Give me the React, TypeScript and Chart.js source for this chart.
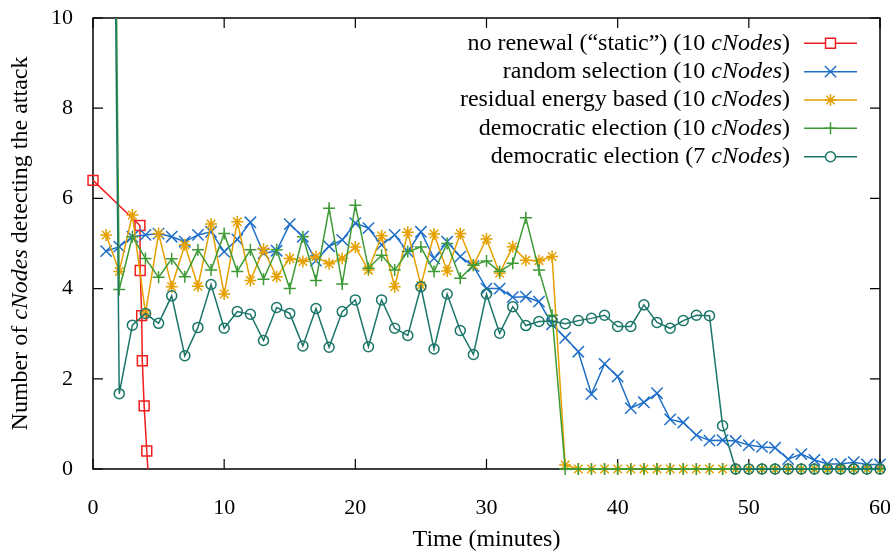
import { useEffect, useRef } from 'react';
import { Chart, registerables } from 'chart.js';
import { drawPoint } from 'chart.js/helpers';

Chart.register(...registerables);

// ---------- data ----------
const minutes = [
  1, 2, 3, 4, 5, 6, 7, 8, 9, 10, 11, 12, 13, 14, 15, 16, 17, 18, 19, 20,
  21, 22, 23, 24, 25, 26, 27, 28, 29, 30, 31, 32, 33, 34, 35, 36, 37, 38, 39, 40,
  41, 42, 43, 44, 45, 46, 47, 48, 49, 50, 51, 52, 53, 54, 55, 56, 57, 58, 59, 60,
];

const staticMinutes = [0, 3.58, 3.6, 3.71, 3.76, 3.9, 4.1, 4.3];
const staticValues = [6.4, 5.4, 4.4, 3.4, 2.4, 1.4, 0.4, -0.6];

const randomValues = [
  4.83, 4.93, 5.15, 5.19, 5.22, 5.15, 5.04, 5.19, 5.26, 4.82,
  5.09, 5.47, 4.78, 4.84, 5.43, 5.15, 4.62, 4.94, 5.08, 5.45,
  5.34, 4.97, 5.19, 4.82, 5.26, 4.67, 5.04, 4.71, 4.5, 4.0,
  4.0, 3.81, 3.82, 3.71, 3.21, 2.91, 2.6, 1.66, 2.33, 2.05,
  1.35, 1.48, 1.68, 1.1, 1.03, 0.75, 0.63, 0.64, 0.62, 0.53,
  0.49, 0.47, 0.22, 0.33, 0.2, 0.11, 0.11, 0.15, 0.1, 0.1,
];

const energyValues = [
  5.19, 4.38, 5.63, 3.45, 5.22, 4.04, 4.97, 4.05, 5.43, 3.88,
  5.48, 4.18, 4.87, 4.26, 4.67, 4.6, 4.71, 4.55, 4.67, 4.92,
  4.41, 5.17, 4.04, 5.25, 4.07, 5.21, 4.39, 5.22, 4.52, 5.1,
  4.34, 4.93, 4.63, 4.62, 4.71, 0.09, 0, 0, 0, 0,
  0, 0, 0, 0, 0, 0, 0, 0, 0, 0,
  0, 0, 0, 0, 0, 0, 0, 0, 0, 0,
];

const democratic10Values = [
  34, 3.98, 5.15, 4.67, 4.25, 4.66, 4.26, 4.86, 4.41, 5.22,
  4.38, 4.86, 4.21, 4.86, 4.0, 5.15, 4.18, 5.78, 4.1, 5.85,
  4.45, 4.74, 4.41, 4.82, 4.92, 4.38, 5.0, 4.23, 4.52, 4.61,
  4.38, 4.56, 5.57, 4.41, 3.41, 0, 0, 0, 0, 0,
  0, 0, 0, 0, 0, 0, 0, 0, 0, 0,
  0, 0, 0, 0, 0, 0, 0, 0, 0, 0,
];

const democratic7Values = [
  33, 1.67, 3.19, 3.45, 3.23, 3.84, 2.51, 3.14, 4.09, 3.12,
  3.49, 3.43, 2.85, 3.58, 3.45, 2.73, 3.56, 2.7, 3.49, 3.75,
  2.71, 3.75, 3.12, 2.96, 4.04, 2.66, 3.88, 3.07, 2.54, 3.88,
  3.01, 3.6, 3.18, 3.27, 3.28, 3.22, 3.29, 3.34, 3.41, 3.16,
  3.16, 3.64, 3.25, 3.12, 3.29, 3.41, 3.4, 0.96, 0, 0,
  0, 0, 0, 0, 0, 0, 0, 0, 0, 0,
];

const seriesNames = [
  'no renewal (“static”)',
  'random selection',
  'residual energy based',
  'democratic election',
  'democratic election',
];
const seriesNodeCounts = ['10', '10', '10', '10', '7'];
const nodeWord = 'cNodes';

const xTicks = [0, 10, 20, 30, 40, 50, 60];
const yTicks = [0, 2, 4, 6, 8, 10];

const xTitle = 'Time (minutes)';
const yTitleParts = ['Number of ', 'cNodes', ' detecting the attack'];

// ---------- styles ----------
const FONT = "'Liberation Serif', 'Times New Roman', serif";
const FS = 24;
const TICK_FS = 22;
const colors = ['#f21d1d', '#1f6fc8', '#e6a000', '#3d9b35', '#1a7568'];
const styles: any[] = ['rect', 'crossRot', 'star', 'cross', 'circle'];
const radii = [7, 8, 6, 6, 5];

function toPoints(xs: number[], ys: number[]) {
  return xs.map((x, i) => ({ x, y: ys[i] }));
}

function drawRich(ctx: CanvasRenderingContext2D, parts: { t: string; it: boolean }[], x: number, y: number, align: 'right' | 'center') {
  let total = 0;
  const widths = parts.map((p) => {
    ctx.font = `${p.it ? 'italic ' : ''}${FS}px ${FONT}`;
    const w = ctx.measureText(p.t).width;
    total += w;
    return w;
  });
  let cx = align === 'right' ? x - total : x - total / 2;
  ctx.textAlign = 'left';
  ctx.textBaseline = 'middle';
  parts.forEach((p, i) => {
    ctx.font = `${p.it ? 'italic ' : ''}${FS}px ${FONT}`;
    ctx.fillText(p.t, cx, y);
    cx += widths[i];
  });
}

const framePlugin = {
  id: 'frame',
  beforeDatasetsDraw(chart: any) {
    const { ctx, chartArea: a, scales } = chart;
    ctx.save();
    ctx.strokeStyle = '#000';
    ctx.lineWidth = 1.5;
    ctx.strokeRect(a.left, a.top, a.right - a.left, a.bottom - a.top);
    ctx.lineWidth = 1.2;
    ctx.beginPath();
    const tl = 10;
    xTicks.forEach((v) => {
      const px = scales.x.getPixelForValue(v);
      ctx.moveTo(px, a.bottom);
      ctx.lineTo(px, a.bottom - tl);
      ctx.moveTo(px, a.top);
      ctx.lineTo(px, a.top + tl);
    });
    yTicks.forEach((v) => {
      const py = scales.y.getPixelForValue(v);
      ctx.moveTo(a.left, py);
      ctx.lineTo(a.left + tl, py);
      ctx.moveTo(a.right, py);
      ctx.lineTo(a.right - tl, py);
    });
    ctx.stroke();
    ctx.restore();
  },
  afterDraw(chart: any) {
    const { ctx, chartArea: a } = chart;
    ctx.save();
    ctx.fillStyle = '#000';
    // x title
    drawRich(ctx, [{ t: xTitle, it: false }], (a.left + a.right) / 2, 540, 'center');
    // y title
    ctx.save();
    ctx.translate(21, (a.top + a.bottom) / 2);
    ctx.rotate(-Math.PI / 2);
    drawRich(ctx, yTitleParts.map((t, i) => ({ t, it: i === 1 })), 0, 0, 'center');
    ctx.restore();
    // legend
    const textRight = 790;
    const lineL = 804;
    const lineR = 857;
    seriesNames.forEach((name, i) => {
      const y = 43.3 + i * 28.35;
      ctx.fillStyle = '#000';
      drawRich(
        ctx,
        [
          { t: `${name} (${seriesNodeCounts[i]} `, it: false },
          { t: nodeWord, it: true },
          { t: ')', it: false },
        ],
        textRight,
        y,
        'right'
      );
      ctx.strokeStyle = colors[i];
      ctx.lineWidth = 1.5;
      ctx.beginPath();
      ctx.moveTo(lineL, y);
      ctx.lineTo(lineR, y);
      ctx.stroke();
      ctx.fillStyle = '#fff';
      ctx.strokeStyle = colors[i];
      drawPoint(ctx, { pointStyle: styles[i], rotation: 0, radius: radii[i], borderWidth: 1.5 } as any, (lineL + lineR) / 2, y);
    });
    ctx.restore();
  },
};

function zeroPadding(s: any) {
  s.paddingTop = 0;
  s.paddingBottom = 0;
  s.paddingLeft = 0;
  s.paddingRight = 0;
}

export default function App() {
  const ref = useRef<HTMLCanvasElement>(null);
  useEffect(() => {
    document.body.style.margin = '0';
    const seriesData = [
      toPoints(staticMinutes, staticValues),
      toPoints(minutes, randomValues),
      toPoints(minutes, energyValues),
      toPoints(minutes, democratic10Values),
      toPoints(minutes, democratic7Values),
    ];
    const chart = new Chart(ref.current!, {
      type: 'line',
      data: {
        datasets: seriesData.map((d, i) => ({
          label: `${seriesNames[i]} (${seriesNodeCounts[i]} ${nodeWord})`,
          data: d,
          borderColor: colors[i],
          backgroundColor: 'rgba(0,0,0,0)',
          borderWidth: 1.5,
          pointStyle: styles[i],
          pointRadius: radii[i],
          pointBorderWidth: 1.5,
          pointBorderColor: colors[i],
          pointBackgroundColor: 'rgba(0,0,0,0)',
          tension: 0,
          order: 4 - i,
          clip: { left: 12, right: 12, top: 0, bottom: i === 0 ? 0 : 12 },
        })),
      },
      options: {
        animation: false,
        responsive: false,
        devicePixelRatio: 1,
        events: [],
        layout: { padding: { top: 18, right: 16, left: 0, bottom: 0 } },
        plugins: { legend: { display: false }, tooltip: { enabled: false } },
        scales: {
          x: {
            type: 'linear',
            min: 0,
            max: 60,
            afterFit: (s: any) => {
              s.height = 85;
              zeroPadding(s);
            },
            afterBuildTicks: (s: any) => {
              s.ticks = xTicks.map((v) => ({ value: v }));
            },
            ticks: { color: '#000', font: { family: FONT, size: TICK_FS }, padding: 18, maxRotation: 0 },
            grid: { display: false },
            border: { display: false },
          },
          y: {
            min: 0,
            max: 10,
            afterFit: (s: any) => {
              s.width = 93;
              zeroPadding(s);
            },
            afterBuildTicks: (s: any) => {
              s.ticks = yTicks.map((v) => ({ value: v }));
            },
            ticks: { color: '#000', font: { family: FONT, size: TICK_FS }, padding: 12 },
            grid: { display: false },
            border: { display: false },
          },
        },
      },
      plugins: [framePlugin],
    });
    return () => chart.destroy();
  }, []);
  return (
    <div style={{ width: 896, height: 554 }}>
      <canvas ref={ref} width={896} height={554} style={{ display: 'block' }} />
    </div>
  );
}
